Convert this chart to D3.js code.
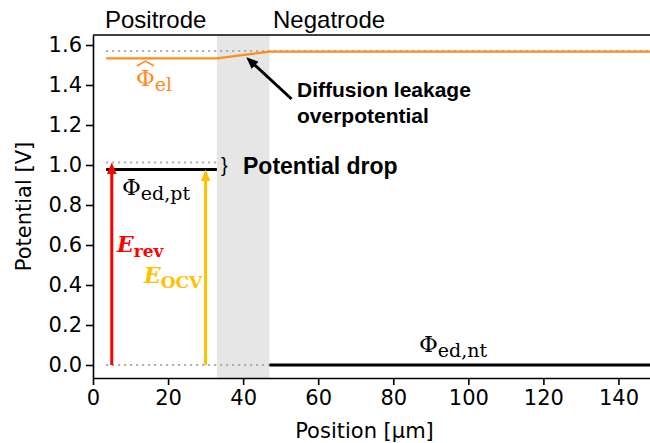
<!DOCTYPE html>
<html>
<head>
<meta charset="utf-8">
<script src="https://cdn.jsdelivr.net/npm/d3@7"></script>
<style>
  body { margin: 0; background: #fff; }
  .axis text { font-family: "DejaVu Sans", sans-serif; font-size: 21px; fill: #000; }
  .axis path, .axis line { stroke: #000; stroke-width: 1.6; }
</style>
</head>
<body>
<svg width="650" height="443"></svg>
<script>
// data
var elPos = [3.5, 33, 47, 150],
    elPot = [1.533, 1.533, 1.567, 1.567];
var ptPos = [3.5, 33], ptPot = 0.978;
var ntPos = [47, 150], ntPot = 0;
var refEl = {x: [3.5, 150], v: 1.57},
    refPt = {x: [3.5, 33], v: 1.013},
    refZero = {x: [3.5, 47], v: 0};
var separator = [33, 47];
var eRev = {x: 5, top: 1.013}, eOcv = {x: 30, top: 0.978};
var xTicks = [0, 20, 40, 60, 80, 100, 120, 140],
    yTicks = [0, 0.2, 0.4, 0.6, 0.8, 1.0, 1.2, 1.4, 1.6];

var svg = d3.select("svg");
var mLeft = 93, mRight = 656, mTop = 35, mBottom = 378;

var x = d3.scaleLinear().domain([0, 150]).range([mLeft, mRight]),
    y = d3.scaleLinear().domain([-0.065, 1.65]).range([mBottom, mTop]);

var line = d3.line().x(function(d) { return x(d[0]); }).y(function(d) { return y(d[1]); });

var defs = svg.append("defs");
// arrow head pointing along the line, tip 8px past the line end
function marker(id, col) {
  defs.append("marker").attr("id", id)
    .attr("viewBox", "0 0 12 10").attr("refX", 4).attr("refY", 5)
    .attr("markerWidth", 12).attr("markerHeight", 10)
    .attr("markerUnits", "userSpaceOnUse").attr("orient", "auto")
    .append("path").attr("d", "M0,0 L12,5 L0,10 Z").attr("fill", col);
}

// separator band
svg.append("rect")
  .attr("x", x(separator[0])).attr("y", mTop)
  .attr("width", x(separator[1]) - x(separator[0])).attr("height", mBottom - mTop)
  .attr("fill", "#e6e6e6");

// dotted reference lines
[refEl, refPt, refZero].forEach(function(r) {
  svg.append("path").attr("d", line(r.x.map(function(p) { return [p, r.v]; })))
    .attr("fill", "none").attr("stroke", "#aaaaaa").attr("stroke-width", 2)
    .attr("stroke-dasharray", "2,4");
});

// electrode potentials
svg.append("path").attr("d", line(ptPos.map(function(p) { return [p, ptPot]; })))
  .attr("fill", "none").attr("stroke", "#000").attr("stroke-width", 3);
svg.append("path").attr("d", line(ntPos.map(function(p) { return [p, ntPot]; })))
  .attr("fill", "none").attr("stroke", "#000").attr("stroke-width", 3);

// electrolyte potential
svg.append("path").attr("d", line(elPos.map(function(p, i) { return [p, elPot[i]]; })))
  .attr("fill", "none").attr("stroke", "#ff8c1a").attr("stroke-width", 2.2);

// voltage arrows
function vArrow(a, col, id) {
  marker(id, col);
  svg.append("line")
    .attr("x1", x(a.x)).attr("x2", x(a.x))
    .attr("y1", y(0)).attr("y2", y(a.top) + 8)
    .attr("stroke", col).attr("stroke-width", 3)
    .attr("marker-end", "url(#" + id + ")");
}
vArrow(eRev, "#ff0000", "hr");
vArrow(eOcv, "#ffc000", "ho");

// axes
svg.append("g").attr("class", "axis")
  .attr("transform", "translate(0," + mBottom + ")")
  .call(d3.axisBottom(x).tickValues(xTicks).tickSize(7).tickPadding(5).tickSizeOuter(0));
svg.append("g").attr("class", "axis")
  .attr("transform", "translate(" + mLeft + ",0)")
  .call(d3.axisLeft(y).tickValues(yTicks).tickFormat(d3.format(".1f")).tickSize(7).tickPadding(4).tickSizeOuter(0));
svg.append("line").attr("x1", mLeft).attr("x2", mRight).attr("y1", mTop).attr("y2", mTop)
  .attr("stroke", "#000").attr("stroke-width", 1.6);

svg.append("text").attr("x", (mLeft + mRight) / 2 - 10).attr("y", 438)
  .attr("text-anchor", "middle").attr("font-family", "DejaVu Sans").attr("font-size", 21)
  .text("Position [µm]");
svg.append("text").attr("transform", "translate(31," + ((mTop + mBottom) / 2) + ") rotate(-90)")
  .attr("text-anchor", "middle").attr("font-family", "DejaVu Sans").attr("font-size", 21)
  .text("Potential [V]");

// region labels
svg.append("text").attr("x", 105).attr("y", 28)
  .attr("font-family", "Liberation Sans").attr("font-size", 24).text("Positrode");
svg.append("text").attr("x", 273).attr("y", 28)
  .attr("font-family", "Liberation Sans").attr("font-size", 24).text("Negatrode");

// annotation arrow
marker("hk", "#000");
svg.append("line")
  .attr("x1", x(52.9)).attr("y1", y(1.33))
  .attr("x2", x(42.4)).attr("y2", y(1.512))
  .attr("stroke", "#000").attr("stroke-width", 3)
  .attr("marker-end", "url(#hk)");
var diff = svg.append("text").attr("font-family", "Liberation Sans").attr("font-weight", "bold")
  .attr("font-size", 21);
diff.append("tspan").attr("x", 297).attr("y", 97).text("Diffusion leakage");
diff.append("tspan").attr("x", 297).attr("y", 123).text("overpotential");

svg.append("text").attr("x", 221).attr("y", 172)
  .attr("font-family", "Liberation Sans").attr("font-size", 20).text("}");
svg.append("text").attr("x", 243).attr("y", 174)
  .attr("font-family", "Liberation Sans").attr("font-weight", "bold").attr("font-size", 23)
  .text("Potential drop");

// potential symbols
function phi(px, py, sub, col, hat) {
  var g = svg.append("g").attr("transform", "translate(" + px + "," + py + ")");
  var t = g.append("text")
    .attr("font-family", "DejaVu Serif").attr("font-size", 23).attr("fill", col);
  t.append("tspan").text("Φ");
  t.append("tspan").attr("dy", 5).attr("font-size", 19).text(sub);
  if (hat) {
    g.append("path").attr("d", "M1,-20 L9.5,-25 L18,-20")
      .attr("fill", "none").attr("stroke", col).attr("stroke-width", 1.5);
  }
}
phi(122, 195, "ed,pt", "#000");
phi(419, 352, "ed,nt", "#000");
phi(136, 86, "el", "#ff8c1a", true);

function eLabel(px, py, sub, col) {
  var t = svg.append("text").attr("x", px).attr("y", py)
    .attr("font-family", "DejaVu Serif").attr("font-weight", "bold").attr("fill", col);
  t.append("tspan").attr("font-style", "italic").attr("font-size", 22).text("E");
  t.append("tspan").attr("dy", 5).attr("font-size", 17).text(sub);
}
eLabel(117, 252, "rev", "#ff0000");
eLabel(144, 283, "OCV", "#ffc000");
</script>
</body>
</html>
